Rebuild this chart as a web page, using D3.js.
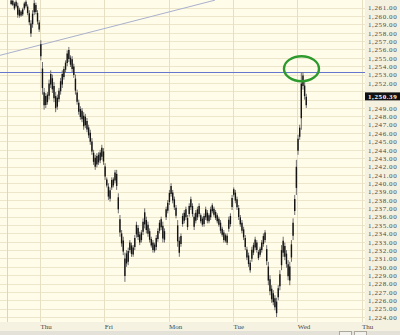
<!DOCTYPE html>
<html>
<head>
<meta charset="utf-8">
<script src="https://cdn.jsdelivr.net/npm/d3@7"></script>
<style>
  body { margin: 0; background: #fff; }
  svg { display: block; }
</style>
</head>
<body>
<svg id="chart" width="400" height="335"></svg>
<script>
// ---- data ----
const dayLabels = ["Thu", "Fri", "Mon", "Tue", "Wed", "Thu"];
const barsPerDay = 39;      // 10 minute bars
const firstBar = -18;       // tail of the previous Wednesday
const sessionMarkBar = -20; // extra vertical marker at the left edge

const highs = [
  // Wed (prev)
  1262.0, 1262.0, 1261.7, 1261.9, 1261.6, 1261.0, 1260.7, 1261.0, 1261.7, 1261.9, 1261.4, 1260.7, 1259.5, 1260.7, 1261.9, 1261.6, 1260.7, 1259.5,
  // Thu
  1257.1, 1254.5, 1251.4, 1250.8, 1250.9, 1252.4, 1253.5, 1253.0, 1252.1, 1250.9, 1250.6, 1251.4, 1252.6, 1253.5, 1254.0, 1254.7, 1255.9, 1256.3, 1255.3, 1255.2,
  1254.3, 1253.0, 1251.2, 1250.0, 1249.2, 1249.0, 1248.5, 1248.3, 1247.8, 1247.0, 1246.4, 1245.4, 1244.0, 1243.4, 1243.6, 1243.7, 1244.0, 1244.6, 1244.2,
  // Fri
  1242.4, 1240.7, 1240.0, 1239.5, 1240.7, 1240.7, 1241.6, 1241.6, 1238.8, 1236.2, 1234.4, 1233.6, 1231.7, 1232.0, 1232.3, 1233.2, 1232.9, 1232.6, 1233.8, 1235.4,
  1235.0, 1234.2, 1234.4, 1235.8, 1237.0, 1236.0, 1235.4, 1234.6, 1233.6, 1233.2, 1232.9, 1233.8, 1234.6, 1235.6, 1236.0, 1235.4, 1234.6, 1237.2, 1238.0,
  // Mon
  1239.2, 1240.0, 1239.2, 1238.4, 1237.4, 1235.6, 1233.6, 1234.0, 1236.4, 1236.8, 1237.2, 1236.2, 1237.6, 1238.4, 1237.6, 1236.4, 1236.8, 1237.2, 1237.6, 1236.4,
  1236.0, 1236.4, 1237.2, 1236.8, 1236.4, 1237.2, 1237.6, 1237.2, 1236.8, 1236.4, 1236.0, 1235.6, 1234.8, 1234.4, 1234.0, 1234.0, 1236.0, 1236.4, 1238.6,
  // Tue
  1239.5, 1239.2, 1238.4, 1237.4, 1236.2, 1235.6, 1234.8, 1233.8, 1232.4, 1231.7, 1230.8, 1232.4, 1232.9, 1233.6, 1233.2, 1232.0, 1232.4, 1233.2, 1234.0, 1234.4,
  1232.6, 1230.6, 1229.0, 1227.8, 1227.2, 1226.6, 1226.3, 1227.8, 1229.6, 1232.6, 1233.6, 1232.9, 1232.0, 1230.8, 1230.6, 1233.2, 1235.8, 1238.6, 1242.8,
  // Wed
  1245.8, 1247.0, 1253.3, 1253.3, 1252.1, 1250.7
];

const lows = [
  // Wed (prev)
  1261.3, 1261.2, 1260.7, 1261.0, 1259.8, 1259.8, 1259.9, 1260.0, 1260.7, 1261.0, 1260.1, 1258.9, 1257.5, 1258.6, 1260.1, 1260.2, 1259.0, 1258.1,
  // Thu
  1254.7, 1250.6, 1248.8, 1249.0, 1249.4, 1250.0, 1251.4, 1250.8, 1249.7, 1248.5, 1248.8, 1249.7, 1250.6, 1251.4, 1252.4, 1253.3, 1254.0, 1254.5, 1253.9, 1253.3,
  1252.6, 1250.6, 1249.4, 1248.2, 1247.6, 1247.3, 1246.4, 1246.6, 1246.1, 1245.4, 1244.6, 1243.4, 1242.2, 1241.6, 1241.9, 1242.2, 1242.4, 1242.8, 1242.2,
  // Fri
  1240.4, 1239.5, 1238.0, 1237.8, 1239.2, 1239.5, 1240.0, 1239.2, 1236.4, 1233.6, 1232.4, 1231.4, 1228.2, 1230.0, 1230.2, 1231.7, 1231.2, 1231.2, 1232.0, 1233.5,
  1233.2, 1232.6, 1232.9, 1233.8, 1234.6, 1234.0, 1233.6, 1232.9, 1232.3, 1231.7, 1231.7, 1232.0, 1233.0, 1234.0, 1234.4, 1232.9, 1232.9, 1235.6, 1236.4,
  // Mon
  1237.4, 1238.4, 1237.6, 1236.8, 1235.8, 1232.4, 1231.2, 1232.4, 1234.8, 1235.2, 1235.6, 1234.4, 1236.0, 1236.8, 1236.0, 1234.4, 1235.2, 1235.6, 1236.0, 1235.2,
  1234.8, 1234.8, 1235.6, 1235.2, 1235.2, 1235.6, 1236.4, 1236.0, 1235.6, 1235.2, 1234.8, 1234.0, 1233.6, 1232.9, 1232.9, 1232.6, 1234.2, 1234.8, 1236.8,
  // Tue
  1238.4, 1237.6, 1236.8, 1235.6, 1234.8, 1234.0, 1233.2, 1232.0, 1230.8, 1230.0, 1229.3, 1230.6, 1231.4, 1232.0, 1231.7, 1230.8, 1231.2, 1231.7, 1232.4, 1232.9,
  1230.2, 1227.8, 1226.6, 1225.7, 1225.4, 1224.8, 1224.0, 1226.0, 1227.2, 1229.6, 1231.2, 1230.8, 1229.9, 1228.4, 1227.8, 1230.6, 1233.2, 1236.2, 1238.6,
  // Wed
  1243.4, 1245.2, 1246.4, 1251.2, 1250.0, 1249.0
];

const lastPrice = 1250.39;
const resistance = 1253.3;
const trendBars = [-24.3, 106.1];
const trendPrices = [1255.3, 1261.9];
const circleBar = 158.6;
const circlePrice = 1253.7;
const priceTicks = d3.range(1224, 1262);

// ---- layout ----
const W = 400, H = 335;
const plotW = 365, plotH = 322;

const svg = d3.select("#chart");

const x = d3.scaleLinear()
  .domain([0, barsPerDay * 5])
  .range([40, 361.5]);

const y = d3.scaleLinear()
  .domain([1223.4, 1261.92])
  .range([plotH, 0]);

// backgrounds
svg.append("rect").attr("width", W).attr("height", H).attr("fill", "#e3e1d8");
svg.append("rect").attr("width", W).attr("height", 331).attr("fill", "#f5f2e2");
svg.append("rect").attr("width", plotW).attr("height", plotH).attr("fill", "#fffcea");

svg.append("defs").append("clipPath").attr("id", "plot")
  .append("rect").attr("width", plotW).attr("height", plotH);

const plot = svg.append("g").attr("clip-path", "url(#plot)");

// grid
plot.selectAll(".hgrid")
  .data(priceTicks)
  .join("line")
  .attr("x1", 0).attr("x2", plotW)
  .attr("y1", d => Math.round(y(d)) + 0.5)
  .attr("y2", d => Math.round(y(d)) + 0.5)
  .attr("stroke", "#ede6cb");

const dayIdx = d3.range(dayLabels.length);
plot.selectAll(".vgrid")
  .data(dayIdx)
  .join("line")
  .attr("x1", d => Math.round(x(d * barsPerDay)) + 0.5)
  .attr("x2", d => Math.round(x(d * barsPerDay)) + 0.5)
  .attr("y1", 0).attr("y2", plotH)
  .attr("stroke", "#e6dfc3");

plot.append("line")
  .attr("x1", Math.round(x(sessionMarkBar)) + 0.5)
  .attr("x2", Math.round(x(sessionMarkBar)) + 0.5)
  .attr("y1", 0).attr("y2", plotH)
  .attr("stroke", "#ddd6b9");

// trend line + resistance
plot.append("line")
  .attr("x1", x(trendBars[0])).attr("y1", y(trendPrices[0]))
  .attr("x2", x(trendBars[1])).attr("y2", y(trendPrices[1]))
  .attr("stroke", "#a9b0cc").attr("stroke-width", 1);

plot.append("line")
  .attr("x1", 0).attr("x2", plotW)
  .attr("y1", Math.round(y(resistance)) + 0.5)
  .attr("y2", Math.round(y(resistance)) + 0.5)
  .attr("stroke", "#6576cf").attr("stroke-width", 1);

// price bars
const bars = highs.map((h, i) => ({ t: firstBar + i + 0.5, hi: h, lo: lows[i] }));

plot.selectAll(".wick")
  .data(bars)
  .join("line")
  .attr("x1", d => x(d.t)).attr("x2", d => x(d.t))
  .attr("y1", d => y(d.hi)).attr("y2", d => y(d.lo))
  .attr("stroke", "#6e6e6e").attr("stroke-width", 1);

plot.selectAll(".body")
  .data(bars)
  .join("line")
  .attr("x1", d => x(d.t)).attr("x2", d => x(d.t))
  .attr("y1", d => y(d.hi - (d.hi - d.lo) * 0.2))
  .attr("y2", d => y(d.lo + (d.hi - d.lo) * 0.2))
  .attr("stroke", "#141414").attr("stroke-width", 1.4);

// green circle
plot.append("ellipse")
  .attr("cx", x(circleBar)).attr("cy", y(circlePrice))
  .attr("rx", 17.5).attr("ry", 12.5)
  .attr("fill", "none")
  .attr("stroke", "#2c9a2c").attr("stroke-width", 2.4);

// right price axis (labels hidden under the last-price tag are skipped)
svg.append("rect").attr("x", plotW).attr("width", W - plotW).attr("height", 331).attr("fill", "#f4f1e1");

const shownTicks = priceTicks.filter(p => Math.abs(y(p) - y(lastPrice)) > 6);

const yAxis = d3.axisRight(y)
  .tickValues(shownTicks)
  .tickFormat(d3.format(",.2f"))
  .tickSize(0)
  .tickPadding(3);

svg.append("g")
  .attr("transform", `translate(${plotW},0)`)
  .call(yAxis)
  .call(g => g.select(".domain").remove())
  .selectAll("text")
  .attr("fill", "#4a4a4a")
  .style("font-family", "'Liberation Serif', serif")
  .style("font-size", "7px")
  .style("letter-spacing", "0.6px");

// last price tag
svg.append("rect")
  .attr("x", plotW).attr("y", y(lastPrice) - 4)
  .attr("width", W - plotW).attr("height", 8)
  .attr("fill", "#111");
svg.append("text")
  .attr("x", plotW + 3).attr("y", y(lastPrice))
  .attr("dy", "0.35em")
  .attr("fill", "#fff")
  .style("font-family", "'Liberation Serif', serif")
  .style("font-size", "7px")
  .style("font-weight", "bold")
  .style("letter-spacing", "0.6px")
  .text(d3.format(",.2f")(lastPrice));

// day labels
svg.selectAll(".day")
  .data(dayLabels)
  .join("text")
  .attr("x", (d, i) => x(i * barsPerDay) + 0.5)
  .attr("y", 328.5)
  .attr("fill", "#4a4a4a")
  .style("font-family", "'Liberation Serif', serif")
  .style("font-size", "7px")
  .text(d => d);

// little scroll buttons at the bottom
svg.selectAll(".btn")
  .data([339, 354])
  .join("rect")
  .attr("x", d => d + 0.5).attr("y", 331.5)
  .attr("width", 12).attr("height", 5)
  .attr("fill", "#f2f1ec").attr("stroke", "#a9a79e");
</script>
</body>
</html>
